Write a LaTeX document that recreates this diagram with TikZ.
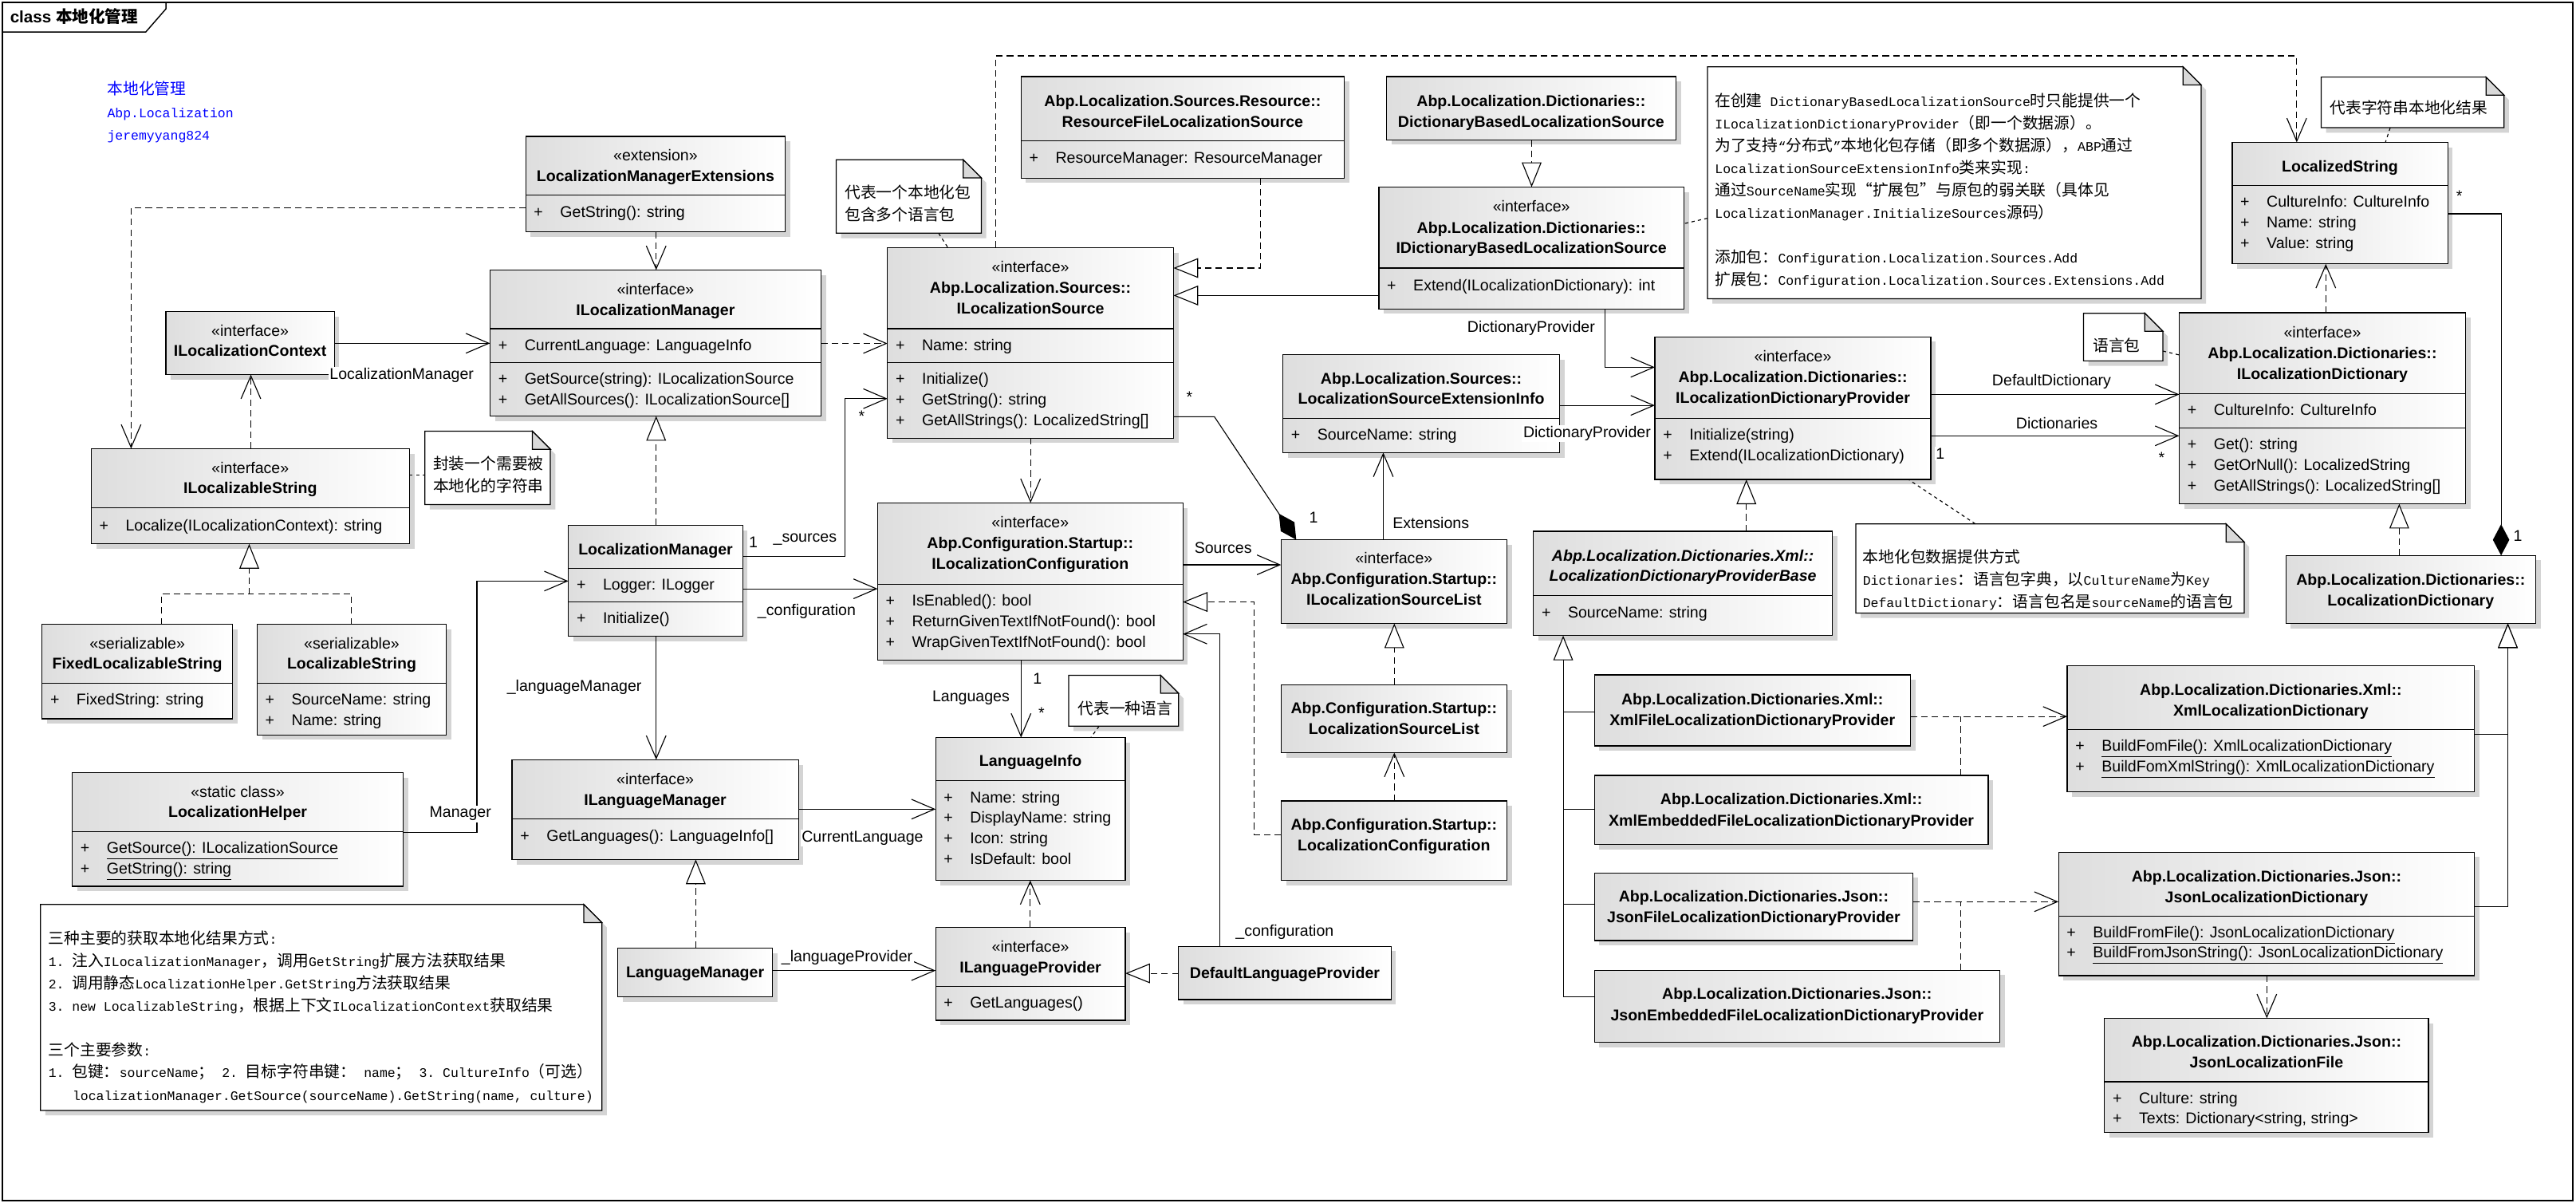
\documentclass[tikz,border=0pt]{standalone}
\usepackage{fontspec}
\setmainfont{Liberation Sans}
\setmonofont{Liberation Mono}
\newfontfamily\cjkf{Noto Sans CJK SC}
\newfontfamily\cjks[Scale=1.2]{Noto Sans CJK SC}
\usetikzlibrary{arrows.meta,shadows,calc}
\newcommand\csz{\fontsize{9.5}{11}\selectfont}
\newcommand\zh[1]{{\cjks #1}}
\newcounter{tnc}
\tikzset{
 cb/.style={draw=black, line width=0.6pt, left color=black!13, right color=white, inner sep=0pt, outer sep=0pt,
   drop shadow={shadow xshift=3pt, shadow yshift=-3pt, fill=black!17, opacity=1}},
 divl/.style={line width=0.6pt},
 txt/.style={inner sep=0pt, outer sep=0pt, font=\csz, anchor=base},
 lbl/.style={inner sep=0.8pt, outer sep=0pt, font=\csz, anchor=base, fill=white},
 ntx/.style={inner sep=0pt, outer sep=0pt, anchor=base west, font=\ttfamily\fontsize{8}{10}\selectfont},
 ln/.style={line width=0.55pt},
 nav/.style={ln, -{Straight Barb[length=14pt,width=12pt]}},
 dep/.style={ln, dash pattern=on 4pt off 2.5pt, -{Straight Barb[length=14pt,width=12pt]}},
 dsh/.style={ln, dash pattern=on 4pt off 2.5pt},
 real/.style={ln, dash pattern=on 4pt off 2.5pt, -{Triangle[length=15pt,width=12pt,fill=white]}},
 gen/.style={ln, -{Triangle[length=15pt,width=12pt,fill=white]}},
 comp/.style={ln, -{Diamond[length=19pt,width=10pt,fill=black]}},
 nlink/.style={ln, dash pattern=on 2pt off 2pt},
}
\newcommand\ucls[5]{\node[cb, minimum width={(#4-#2)*1pt}, minimum height={(#5-#3)*1pt}] (#1) at ({(#2+#4)/2},{(#3+#5)/2}) {};}
\newcommand\udv[2]{\draw[divl] (#1.west |- 0,#2) -- (#1.east |- 0,#2);}
\newcommand\uhd[3]{\stepcounter{tnc}\node[txt] (t\arabic{tnc}) at (#1 |- 0,#2+3.4) {#3};}
\newcommand\unm[3]{\stepcounter{tnc}\node[txt,font=\csz\bfseries] (t\arabic{tnc}) at (#1 |- 0,#2+3.4) {#3};}
\newcommand\unmi[3]{\stepcounter{tnc}\node[txt,font=\csz\bfseries\itshape] (t\arabic{tnc}) at (#1 |- 0,#2+3.4) {#3};}
\newcommand\umb[3]{\stepcounter{tnc}\node[txt,anchor=base west,xshift=5pt] (t\arabic{tnc}) at (#1.west |- 0,#2+3.4) {+};%
 \stepcounter{tnc}\node[txt,anchor=base west,xshift=21pt] (t\arabic{tnc}) at (#1.west |- 0,#2+3.4) {#3};}
\newcommand\ulb[3]{\stepcounter{tnc}\node[lbl] (t\arabic{tnc}) at (#1,#2+3.4) {#3};}
\newcommand\unt[4][]{\stepcounter{tnc}\node[ntx,#1] (t\arabic{tnc}) at (#2,#3+3.3) {#4};}
\newcommand\unote[5]{%
 \fill[black!17] (#2+3,#3+3) -- (#4+3-11,#3+3) -- (#4+3,#3+14) -- (#4+3,#5+3) -- (#2+3,#5+3) -- cycle;
 \filldraw[fill=white, draw=black, line width=0.6pt] (#2,#3) -- (#4-11,#3) -- (#4,#3+11) -- (#4,#5) -- (#2,#5) -- cycle;
 \filldraw[fill=black!15, draw=black, line width=0.6pt] (#4-11,#3) -- (#4-11,#3+11) -- (#4,#3+11) -- cycle;
 \node[inner sep=0pt, outer sep=0pt, minimum width={(#4-#2)*1pt}, minimum height={(#5-#3)*1pt}] (#1) at ({(#2+#4)/2},{(#3+#5)/2}) {};}

\begin{document}
\begin{tikzpicture}[x=1pt,y=-1pt]
\useasboundingbox (0,0) rectangle (1568,732);
\fill[white] (0,0) rectangle (1568,732);
% frame
\draw[line width=0.7pt] (1.5,1.5) rectangle (1566,730.5);
\draw[line width=0.7pt] (1.5,19.5) -- (88.7,19.5) -- (101,5.4) -- (101,1.5);
\node[anchor=base west, inner sep=0pt] (title) at (6,14) {\fontsize{10}{12}\selectfont\bfseries class {\cjkf\bfseries 本地化管理}};
% blue text
\unt[text=blue]{65.3}{54.2}{\zh{本地化管理}}
\unt[text=blue]{65.3}{68.5}{Abp.Localization}
\unt[text=blue]{65.3}{81.9}{jeremyyang824}

% ===== classes =====
\ucls{ext}{320}{83}{478}{141}
\udv{ext}{118.6}
\uhd{ext}{94.3}{«extension»}
\unm{ext}{107}{LocalizationManagerExtensions}
\umb{ext}{128.8}{GetString(): string}

\ucls{ictx}{101}{189.6}{203.5}{228}
\uhd{ictx}{201.1}{«interface»}
\unm{ictx}{213.5}{ILocalizationContext}

\ucls{ils}{55.5}{273}{249.2}{331}
\udv{ils}{309}
\uhd{ils}{284.5}{«interface»}
\unm{ils}{296.9}{ILocalizableString}
\umb{ils}{319.5}{Localize(ILocalizationContext): string}

\ucls{imgr}{298.3}{164.3}{499.7}{253.2}
\udv{imgr}{200}\udv{imgr}{220.6}
\uhd{imgr}{176}{«interface»}
\unm{imgr}{188.5}{ILocalizationManager}
\umb{imgr}{210}{CurrentLanguage: LanguageInfo}
\umb{imgr}{230.5}{GetSource(string): ILocalizationSource}
\umb{imgr}{243}{GetAllSources(): ILocalizationSource[]}

\ucls{src}{540.2}{150.7}{714.3}{266.6}
\udv{src}{200}\udv{src}{220.6}
\uhd{src}{162.2}{«interface»}
\unm{src}{174.9}{Abp.Localization.Sources::}
\unm{src}{187.4}{ILocalizationSource}
\umb{src}{210}{Name: string}
\umb{src}{230.5}{Initialize()}
\umb{src}{243}{GetString(): string}
\umb{src}{255.5}{GetAllStrings(): LocalizedString[]}

\ucls{lm}{346}{319.7}{452.1}{387.1}
\udv{lm}{345.9}\udv{lm}{366.3}
\unm{lm}{334}{LocalizationManager}
\umb{lm}{355.8}{Logger: ILogger}
\umb{lm}{376.2}{Initialize()}

\ucls{cfg}{534.2}{306}{720}{401.6}
\udv{cfg}{355.7}
\uhd{cfg}{317.7}{«interface»}
\unm{cfg}{330.3}{Abp.Configuration.Startup::}
\unm{cfg}{342.9}{ILocalizationConfiguration}
\umb{cfg}{365.5}{IsEnabled(): bool}
\umb{cfg}{378}{ReturnGivenTextIfNotFound(): bool}
\umb{cfg}{390.5}{WrapGivenTextIfNotFound(): bool}

\ucls{ilm}{311.7}{462.3}{486}{523}
\udv{ilm}{498.3}
\uhd{ilm}{474}{«interface»}
\unm{ilm}{486.6}{ILanguageManager}
\umb{ilm}{508.5}{GetLanguages(): LanguageInfo[]}

\ucls{li}{569.5}{448.8}{685}{535.7}
\udv{li}{475}
\unm{li}{463.1}{LanguageInfo}
\umb{li}{485}{Name: string}
\umb{li}{497.5}{DisplayName: string}
\umb{li}{510}{Icon: string}
\umb{li}{522.5}{IsDefault: bool}

\ucls{lmg}{376}{577}{470.3}{606.6}
\unm{lmg}{591.6}{LanguageManager}

\ucls{ilp}{569.5}{564.3}{685}{620.9}
\udv{ilp}{600.3}
\uhd{ilp}{575.8}{«interface»}
\unm{ilp}{588.4}{ILanguageProvider}
\umb{ilp}{610}{GetLanguages()}

\ucls{dlp}{717.4}{575.8}{846.7}{608.3}
\unm{dlp}{591.8}{DefaultLanguageProvider}

\ucls{isl}{779.8}{328.4}{917.2}{379.4}
\uhd{isl}{339.6}{«interface»}
\unm{isl}{352.4}{Abp.Configuration.Startup::}
\unm{isl}{364.8}{ILocalizationSourceList}

\ucls{sl}{779.8}{416.8}{917.2}{458}
\unm{sl}{431}{Abp.Configuration.Startup::}
\unm{sl}{443.6}{LocalizationSourceList}

\ucls{lc}{779.8}{487.4}{917.2}{535.7}
\unm{lc}{501.5}{Abp.Configuration.Startup::}
\unm{lc}{514.5}{LocalizationConfiguration}

\ucls{lsei}{780.9}{215.7}{949.3}{275.4}
\udv{lsei}{254.6}
\unm{lsei}{230.1}{Abp.Localization.Sources::}
\unm{lsei}{242.7}{LocalizationSourceExtensionInfo}
\umb{lsei}{264.5}{SourceName: string}

\ucls{rfls}{621.5}{46.6}{818.2}{108.4}
\udv{rfls}{85.5}
\unm{rfls}{61.5}{Abp.Localization.Sources.Resource::}
\unm{rfls}{74}{ResourceFileLocalizationSource}
\umb{rfls}{96}{ResourceManager: ResourceManager}

\ucls{dbls}{843.9}{46.6}{1020.1}{85.1}
\unm{dbls}{61.5}{Abp.Localization.Dictionaries::}
\unm{dbls}{74}{DictionaryBasedLocalizationSource}

\ucls{idbls}{839.3}{113.8}{1025}{188}
\udv{idbls}{163.1}
\uhd{idbls}{125.6}{«interface»}
\unm{idbls}{138.4}{Abp.Localization.Dictionaries::}
\unm{idbls}{150.5}{IDictionaryBasedLocalizationSource}
\umb{idbls}{173.5}{Extend(ILocalizationDictionary): int}

\ucls{ildp}{1007.3}{205}{1175.3}{291.8}
\udv{ildp}{254.6}
\uhd{ildp}{216.9}{«interface»}
\unm{ildp}{229.5}{Abp.Localization.Dictionaries::}
\unm{ildp}{242}{ILocalizationDictionaryProvider}
\umb{ildp}{264.5}{Initialize(string)}
\umb{ildp}{277}{Extend(ILocalizationDictionary)}

\ucls{ldpb}{933.4}{323.3}{1115.3}{386.8}
\udv{ldpb}{362.5}
\unmi{ldpb}{338.2}{Abp.Localization.Dictionaries.Xml::}
\unmi{ldpb}{350.3}{LocalizationDictionaryProviderBase}
\umb{ldpb}{372.5}{SourceName: string}

\ucls{xfp}{970.5}{410.7}{1162.8}{453.9}
\unm{xfp}{425.3}{Abp.Localization.Dictionaries.Xml::}
\unm{xfp}{438.1}{XmlFileLocalizationDictionaryProvider}

\ucls{xep}{970.5}{471.9}{1210.2}{514}
\unm{xep}{486.4}{Abp.Localization.Dictionaries.Xml::}
\unm{xep}{499.1}{XmlEmbeddedFileLocalizationDictionaryProvider}

\ucls{jfp}{970.5}{531.2}{1164.4}{572.3}
\unm{jfp}{545.6}{Abp.Localization.Dictionaries.Json::}
\unm{jfp}{558.2}{JsonFileLocalizationDictionaryProvider}

\ucls{jep}{970.5}{590.4}{1217.2}{634.3}
\unm{jep}{604.7}{Abp.Localization.Dictionaries.Json::}
\unm{jep}{617.5}{JsonEmbeddedFileLocalizationDictionaryProvider}

\ucls{ls}{1358.7}{86.6}{1489.9}{160.6}
\udv{ls}{112.9}
\unm{ls}{101.1}{LocalizedString}
\umb{ls}{122.5}{CultureInfo: CultureInfo}
\umb{ls}{135.2}{Name: string}
\umb{ls}{148}{Value: string}

\ucls{ild}{1326.5}{190.3}{1500.7}{306.6}
\udv{ild}{239.7}\udv{ild}{260.5}
\uhd{ild}{202.1}{«interface»}
\unm{ild}{214.8}{Abp.Localization.Dictionaries::}
\unm{ild}{227.5}{ILocalizationDictionary}
\umb{ild}{249.5}{CultureInfo: CultureInfo}
\umb{ild}{270}{Get(): string}
\umb{ild}{282.6}{GetOrNull(): LocalizedString}
\umb{ild}{295.2}{GetAllStrings(): LocalizedString[]}

\ucls{ld}{1391.4}{338}{1543.4}{379.3}
\unm{ld}{352.5}{Abp.Localization.Dictionaries::}
\unm{ld}{365.2}{LocalizationDictionary}

\ucls{xld}{1258.3}{405}{1506.2}{481.9}
\udv{xld}{444}
\unm{xld}{419.5}{Abp.Localization.Dictionaries.Xml::}
\unm{xld}{432.1}{XmlLocalizationDictionary}
\umb{xld}{453.8}{\underline{BuildFomFile(): XmlLocalizationDictionary}}
\umb{xld}{466.2}{\underline{BuildFomXmlString(): XmlLocalizationDictionary}}

\ucls{jld}{1253}{518.6}{1506.2}{593.7}
\udv{jld}{557.4}
\unm{jld}{533.1}{Abp.Localization.Dictionaries.Json::}
\unm{jld}{545.8}{JsonLocalizationDictionary}
\umb{jld}{567}{\underline{BuildFromFile(): JsonLocalizationDictionary}}
\umb{jld}{579.5}{\underline{BuildFromJsonString(): JsonLocalizationDictionary}}

\ucls{jlf}{1281}{619.6}{1478.2}{689}
\udv{jlf}{658.2}
\unm{jlf}{633.7}{Abp.Localization.Dictionaries.Json::}
\unm{jlf}{646.6}{JsonLocalizationFile}
\umb{jlf}{668}{Culture: string}
\umb{jlf}{680.5}{Texts: Dictionary<string, string>}

\ucls{fls}{25.6}{380}{141.5}{437.4}
\udv{fls}{415.8}
\uhd{fls}{391.3}{«serializable»}
\unm{fls}{403.8}{FixedLocalizableString}
\umb{fls}{425.5}{FixedString: string}

\ucls{lstr}{156.5}{380}{271.7}{447.2}
\udv{lstr}{415.8}
\uhd{lstr}{391.3}{«serializable»}
\unm{lstr}{403.8}{LocalizableString}
\umb{lstr}{425.5}{SourceName: string}
\umb{lstr}{438}{Name: string}

\ucls{lh}{44}{470.2}{245.4}{539.3}
\udv{lh}{505.9}
\uhd{lh}{481.6}{«static class»}
\unm{lh}{494.1}{LocalizationHelper}
\umb{lh}{515.6}{\underline{GetSource(): ILocalizationSource}}
\umb{lh}{528.3}{\underline{GetString(): string}}

% ===== notes =====
\unote{n1}{258.6}{262.4}{335}{307}
\unt{263.7}{282.4}{\zh{封装一个需要被}}
\unt{263.7}{295.8}{\zh{本地化的字符串}}

\unote{n2}{509}{97.2}{597.3}{141.9}
\unt{514.2}{117.3}{\zh{代表一个本地化包}}
\unt{514.2}{130.8}{\zh{包含多个语言包}}

\unote{n3}{650.5}{410.9}{717.4}{441.9}
\unt{656.1}{431.5}{\zh{代表一种语言}}

\unote{n4}{1039.3}{40.7}{1339.8}{181.8}
\unt{1043.9}{61.4}{\zh{在创建} DictionaryBasedLocalizationSource\zh{时只能提供一个}}
\unt{1043.9}{75.2}{ILocalizationDictionaryProvider\zh{（即一个数据源）。}}
\unt{1043.9}{88.8}{\zh{为了支持}“\zh{分布式}”\zh{本地化包存储（即多个数据源），}ABP\zh{通过}}
\unt{1043.9}{102.4}{LocalizationSourceExtensionInfo\zh{类来实现}:}
\unt{1043.9}{116}{\zh{通过}SourceName\zh{实现“扩展包”与原包的弱关联（具体见}}
\unt{1043.9}{129.6}{LocalizationManager.InitializeSources\zh{源码）}}
\unt{1043.9}{156.8}{\zh{添加包：}Configuration.Localization.Sources.Add}
\unt{1043.9}{170.4}{\zh{扩展包：}Configuration.Localization.Sources.Extensions.Add}

\unote{n5}{1412.9}{46.9}{1524.2}{77.7}
\unt{1418.2}{66}{\zh{代表字符串本地化结果}}

\unote{n6}{1268.2}{190.6}{1316.5}{219.6}
\unt{1274}{210.7}{\zh{语言包}}

\unote{n7}{1129.6}{318.8}{1366}{373}
\unt{1133.9}{339}{\zh{本地化包数据提供方式}}
\unt{1133.9}{352.8}{Dictionaries\zh{：语言包字典，以}CultureName\zh{为}Key}
\unt{1133.9}{366.5}{DefaultDictionary\zh{：语言包名是}sourceName\zh{的语言包}}

\unote{n8}{24.6}{550.4}{366.4}{675.7}
\unt{29.5}{571}{\zh{三种主要的获取本地化结果方式}:}
\unt{29.5}{584.6}{1. \zh{注入}ILocalizationManager\zh{，调用}GetString\zh{扩展方法获取结果}}
\unt{29.5}{598.4}{2. \zh{调用静态}LocalizationHelper.GetString\zh{方法获取结果}}
\unt{29.5}{611.8}{3. new LocalizableString\zh{，根据上下文}ILocalizationContext\zh{获取结果}}
\unt{29.5}{639}{\zh{三个主要参数}:}
\unt{29.5}{652.5}{1. \zh{包键：}sourceName\zh{；} 2. \zh{目标字符串键：} name\zh{；} 3. CultureInfo\zh{（可选）}}
\unt{44.2}{666.4}{localizationManager.GetSource(sourceName).GetString(name, culture)}

% ===== connectors =====
\coordinate (itr) at (151.7,361.4);
\coordinate (trk) at (951.5,606.7);
\coordinate (xj) at (1193.3,436);
\coordinate (jj) at (1193.3,548.7);
\coordinate (lstop) at (1398,34);
\coordinate (srcup) at (606,34);

\draw[dep] (ext.west |- 0,126.3) -| (ils.north -| 79.8,0);
\draw[dep] (ils.north -| 152.7,0) -- (ictx.south -| 152.7,0);
\draw[nav] (ictx.east |- 0,208.9) -- (imgr.west |- 0,208.9);
\draw[dep] (ext.south -| 399.4,0) -- (imgr.north -| 399.4,0);
\draw[dep] (imgr.east |- 0,209) -- (src.west |- 0,209);
\draw[nlink] (n2.south -| 571.3,0) -- (src.north -| 577,0);
\draw[dep] (src.north -| srcup) -- (srcup) -- (lstop) -- (ls.north -| lstop);
\draw[real] (lm.north -| 399.4,0) -- (imgr.south -| 399.4,0);
\draw[nav] (lm.east |- 0,338.8) -| (514.5,242.6) -- (src.west |- 0,242.6);
\draw[nav] (lm.east |- 0,358.3) -- (cfg.west |- 0,358.3);
\draw[dep] (src.south -| 627.3,0) -- (cfg.north -| 627.3,0);
\draw[nav] (lm.south -| 399.4,0) -- (ilm.north -| 399.4,0);
\draw[nav] (ilm.east |- 0,492.4) -- (li.west |- 0,492.4);
\draw[nav] (cfg.south -| 621.5,0) -- (li.north -| 621.5,0);
\draw[nlink] (n3.south -| 669,0) -- (li.north -| 664,0);
\draw[real] (lmg.north -| 423.5,0) -- (ilm.south -| 423.5,0);
\draw[nav] (lmg.east |- 0,590.6) -- (ilp.west |- 0,590.6);
\draw[dep] (ilp.north -| 627.1,0) -- (li.south -| 627.1,0);
\draw[real] (dlp.west |- 0,592.3) -- (ilp.east |- 0,592.3);
\draw[nav] (dlp.north -| 742.6,0) |- (cfg.east |- 0,385.8);
\draw[real] (lc.west |- 0,507.8) -| (763.4,366.3) -- (cfg.east |- 0,366.3);
\draw[nav] (cfg.east |- 0,343.7) -- (isl.west |- 0,343.7);
\draw[real] (sl.north -| 848.7,0) -- (isl.south -| 848.7,0);
\draw[dep] (lc.north -| 848.7,0) -- (sl.south -| 848.7,0);
\draw[comp] (src.east |- 0,253.6) -- (739.2,253.6) -- (isl.north -| 789,0);
\draw[nav] (isl.north -| 842,0) -- (lsei.south -| 842,0);
\draw[nav] (lsei.east |- 0,246.7) -- (ildp.west |- 0,246.7);
\draw[nav] (idbls.south -| 977,0) |- (ildp.west |- 0,223.5);
\draw[gen] (idbls.west |- 0,179.8) -- (src.east |- 0,179.8);
\draw[real] (rfls.south -| 767.2,0) |- (src.east |- 0,163.1);
\draw[real] (dbls.south -| 932.3,0) -- (idbls.north -| 932.3,0);
\draw[nlink] (n4.west |- 0,132.8) -- (idbls.east |- 0,136.1);
\draw[nav] (ildp.east |- 0,240) -- (ild.west |- 0,240);
\draw[nav] (ildp.east |- 0,265.2) -- (ild.west |- 0,265.2);
\draw[nlink] (n6.east |- 0,213.6) -- (ild.west |- 0,216);
\draw[real] (ldpb.north -| 1063,0) -- (ildp.south -| 1063,0);
\draw[nlink] (n7.north -| 1202.4,0) -- (ildp.south -| 1161.7,0);
\draw[dep] (ild.north -| 1415.7,0) -- (ls.south -| 1415.7,0);
\draw[nlink] (n5.south -| 1454.9,0) -- (ls.north -| 1452,0);
\draw[comp] (ls.east |- 0,130.1) -| (ld.north -| 1522.4,0);
\draw[real] (ld.north -| 1460.4,0) -- (ild.south -| 1460.4,0);
\draw[gen] (xld.east |- 0,446.7) -| (ld.south -| 1526.5,0);
\draw[gen] (jld.east |- 0,551.7) -| (ld.south -| 1526.5,0);
\draw[dep] (xfp.east |- xj) -- (xld.west |- xj);
\draw[dsh] (xep.north -| xj) -- (xj);
\draw[dep] (jfp.east |- jj) -- (jld.west |- jj);
\draw[dsh] (jep.north -| jj) -- (jj);
\draw[dep] (jld.south -| 1379.8,0) -- (jlf.north -| 1379.8,0);
\draw[gen] (jep.west |- trk) -- (trk) -- (ldpb.south -| trk);
\draw[ln] (xfp.west |- 0,433.1) -- (trk |- 0,433.1);
\draw[ln] (xep.west |- 0,492.3) -- (trk |- 0,492.3);
\draw[ln] (jfp.west |- 0,550.3) -- (trk |- 0,550.3);
\draw[real] (fls.north -| 98.3,0) |- (itr) -- (ils.south -| itr);
\draw[dsh] (lstr.north -| 214,0) |- (itr);
\draw[nav] (lh.east |- 0,506.5) -| (290.3,353.6) -- (lm.west |- 0,353.6);
\draw[nlink] (ils.east |- 0,289) -- (n1.west |- 0,289);

% ===== labels =====
\ulb{244.5}{227.5}{LocalizationManager}
\ulb{458.5}{330}{1}
\ulb{490}{326.5}{\_sources}
\ulb{524.5}{253.2}{*}
\ulb{491}{371}{\_configuration}
\ulb{349.6}{417}{\_languageManager}
\ulb{525}{508.9}{CurrentLanguage}
\ulb{631.5}{412.7}{1}
\ulb{591}{423.5}{Languages}
\ulb{634}{433.7}{*}
\ulb{515.6}{581.7}{\_languageProvider}
\ulb{782}{566.5}{\_configuration}
\ulb{744.5}{333.1}{Sources}
\ulb{724}{241.7}{*}
\ulb{799.5}{314.8}{1}
\ulb{871}{318.3}{Extensions}
\ulb{966}{262.8}{DictionaryProvider}
\ulb{932}{199}{DictionaryProvider}
\ulb{1248.8}{231.4}{DefaultDictionary}
\ulb{1252}{257.3}{Dictionaries}
\ulb{1181}{275.9}{1}
\ulb{1315.8}{278.3}{*}
\ulb{1496.9}{119.4}{*}
\ulb{1532.6}{326.2}{1}
\ulb{280.2}{494.1}{Manager}
\end{tikzpicture}
\end{document}
